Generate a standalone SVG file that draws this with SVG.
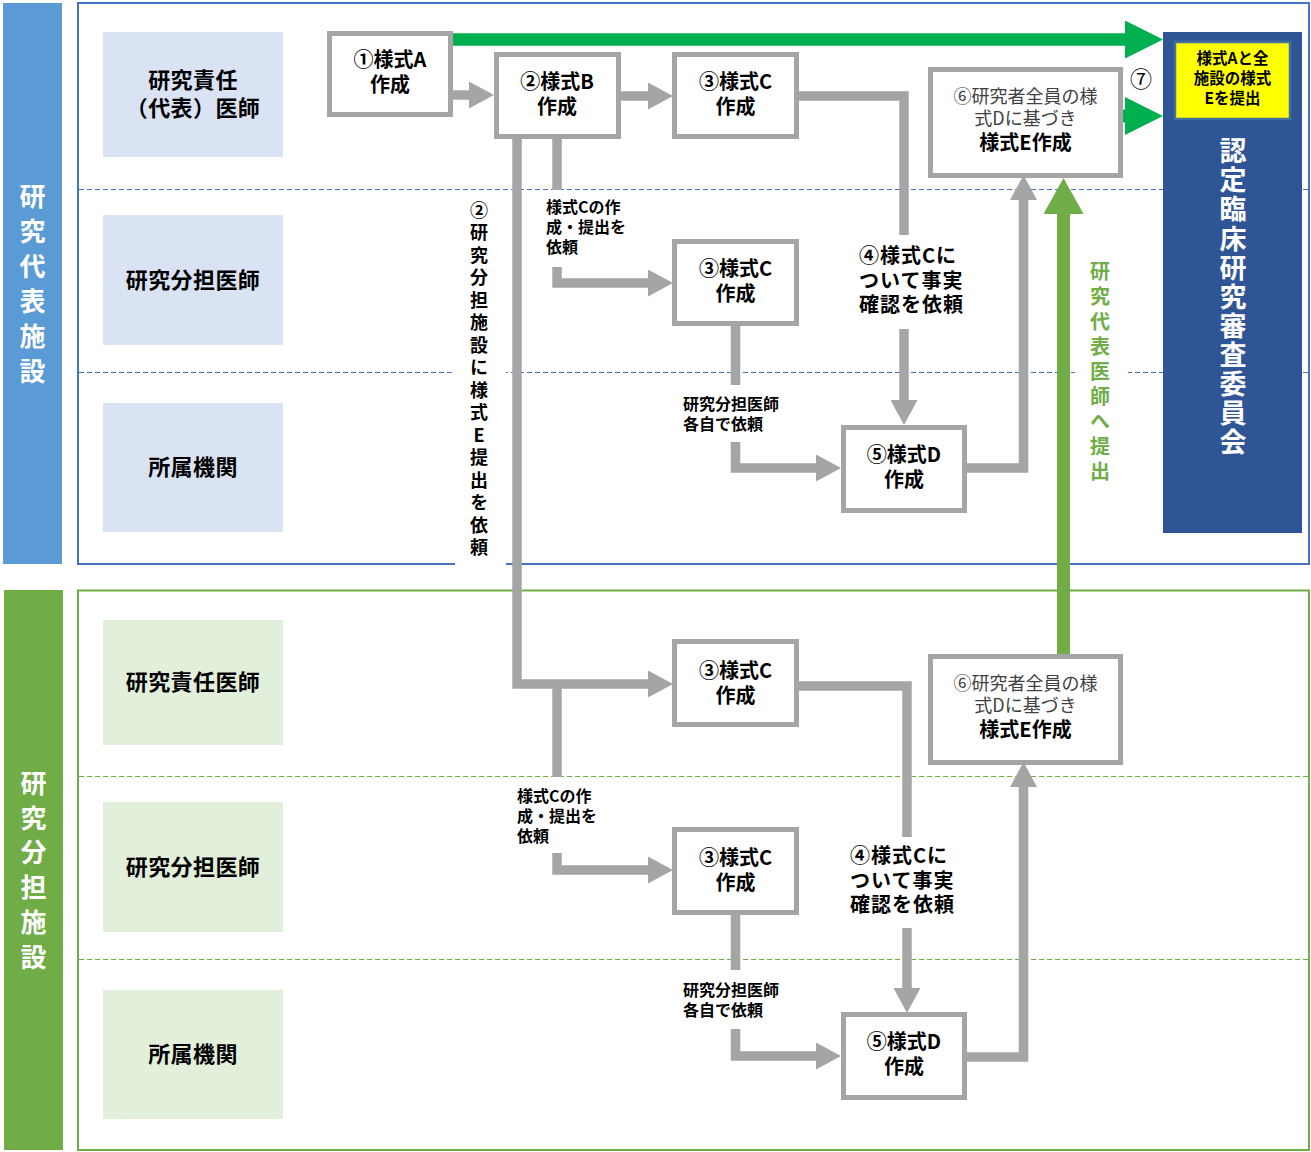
<svg xmlns="http://www.w3.org/2000/svg" width="1311" height="1152" viewBox="0 0 1311 1152">
<style>
text{font-family:"Noto Sans CJK JP","Noto Sans",sans-serif;}
.lane-b{fill:#DAE3F3;}
.lane-g{fill:#E2EFDA;}
.lbl{font-size:22px;font-weight:bold;fill:#000;text-anchor:middle;letter-spacing:0.4px;}
.node rect{fill:#fff;stroke:#A5A5A5;stroke-width:5;}
.nt{font-size:20px;font-weight:bold;fill:#000;text-anchor:middle;}
.nt6{font-size:18px;fill:#404040;text-anchor:middle;}
.sm{font-size:16px;font-weight:bold;fill:#000;}
.t4{font-size:20px;font-weight:bold;fill:#000;letter-spacing:1px;}
.conn{fill:none;stroke:#A5A5A5;stroke-width:9.5;stroke-linejoin:miter;}
.vt{writing-mode:vertical-rl;text-orientation:upright;font-weight:bold;}
.dashb{stroke:#4472C4;stroke-width:1;stroke-dasharray:5 3;}
.dashg{stroke:#70AD47;stroke-width:1;stroke-dasharray:5 3;}
</style>
<defs>
<marker id="ah" markerUnits="userSpaceOnUse" markerWidth="25" markerHeight="27" viewBox="0 0 25 27" refX="0" refY="13.5" orient="auto"><path d="M0,0 L25,13.5 L0,27 Z" fill="#A5A5A5"/></marker>
<marker id="ahg" markerUnits="userSpaceOnUse" markerWidth="38" markerHeight="38" viewBox="0 0 38 38" refX="0" refY="19" orient="auto"><path d="M0,0 L38,19 L0,38 Z" fill="#00B050"/></marker>
<marker id="ahl" markerUnits="userSpaceOnUse" markerWidth="36" markerHeight="40" viewBox="0 0 36 40" refX="0" refY="20" orient="auto"><path d="M0,0 L36,20 L0,40 Z" fill="#70AD47"/></marker>
</defs>

<!-- Facility bands and frames -->
<g id="band-rep">
<rect x="3" y="3" width="59" height="561" fill="#5B9BD5"/>
<text class="vt" x="32.5" y="183" font-size="26" fill="#fff" style="letter-spacing:9px">研究代表施設</text>
</g>
<g id="band-sub">
<rect x="4" y="590" width="59" height="560" fill="#70AD47"/>
<text class="vt" x="33.5" y="770" font-size="26" fill="#fff" style="letter-spacing:8.8px">研究分担施設</text>
</g>
<rect x="78" y="3" width="1231" height="561" fill="none" stroke="#4472C4" stroke-width="2"/>
<rect x="78" y="590.5" width="1231" height="559.5" fill="none" stroke="#70AD47" stroke-width="2"/>
<line class="dashb" x1="79" y1="189.5" x2="1308" y2="189.5"/>
<line class="dashb" x1="79" y1="372.5" x2="1308" y2="372.5"/>
<line class="dashg" x1="79" y1="776.5" x2="1308" y2="776.5"/>
<line class="dashg" x1="79" y1="959.5" x2="1308" y2="959.5"/>

<!-- Lane labels -->
<g id="lane-rep-pi"><rect class="lane-b" x="103" y="32" width="180" height="125"/><text class="lbl"><tspan x="193" y="88">研究責任</tspan><tspan x="193" y="116">（代表）医師</tspan></text></g>
<g id="lane-rep-sub"><rect class="lane-b" x="103" y="215" width="180" height="130"/><text class="lbl" x="193" y="288">研究分担医師</text></g>
<g id="lane-rep-inst"><rect class="lane-b" x="103" y="403" width="180" height="129"/><text class="lbl" x="193" y="475">所属機関</text></g>
<g id="lane-sub-pi"><rect class="lane-g" x="103" y="620" width="180" height="125"/><text class="lbl" x="193" y="690">研究責任医師</text></g>
<g id="lane-sub-sub"><rect class="lane-g" x="103" y="802" width="180" height="130"/><text class="lbl" x="193" y="875">研究分担医師</text></g>
<g id="lane-sub-inst"><rect class="lane-g" x="103" y="990" width="180" height="129"/><text class="lbl" x="193" y="1062">所属機関</text></g>

<!-- white backgrounds behind vertical labels -->
<rect x="455" y="195" width="51" height="372" fill="#fff"/>
<rect x="1075" y="255" width="53" height="240" fill="#fff"/>

<!-- Connectors -->
<g id="connectors">
<path class="conn" d="M453,95 H469" marker-end="url(#ah)"/>
<path class="conn" d="M621,96 H648" marker-end="url(#ah)"/>
<path class="conn" d="M799,96 H904 V235"/>
<path class="conn" d="M904,329 V400" marker-end="url(#ah)"/>
<path class="conn" d="M557,139 V190"/>
<path class="conn" d="M557,267 V283 H648" marker-end="url(#ah)"/>
<path class="conn" d="M517,139 V684 H648" marker-end="url(#ah)"/>
<path class="conn" d="M557,684 V777"/>
<path class="conn" d="M557,853 V870 H648" marker-end="url(#ah)"/>
<path class="conn" d="M735.5,326 V385"/>
<path class="conn" d="M735.5,442 V468 H816" marker-end="url(#ah)"/>
<path class="conn" d="M965,468 H1023.5 V200" marker-end="url(#ah)"/>
<path class="conn" d="M799,686 H907 V837"/>
<path class="conn" d="M907,928 V988" marker-end="url(#ah)"/>
<path class="conn" d="M735.5,913 V970"/>
<path class="conn" d="M735.5,1029 V1056 H816" marker-end="url(#ah)"/>
<path class="conn" d="M965,1057 H1023.5 V787" marker-end="url(#ah)"/>
<path d="M453,39.5 H1125" fill="none" stroke="#00B050" stroke-width="12.5" marker-end="url(#ahg)"/>
<path d="M1120,116 H1125" fill="none" stroke="#00B050" stroke-width="13" marker-end="url(#ahg)"/>
<path d="M1063.5,655 V214" fill="none" stroke="#70AD47" stroke-width="13" marker-end="url(#ahl)"/>
</g>

<!-- Connector labels -->
<g id="connector-labels">
<text class="vt" x="479" y="201" font-size="18" fill="#000" style="letter-spacing:4.5px">②研究分担施設に様式E提出を依頼</text>
<text class="vt" x="1100" y="261" font-size="20" fill="#70AD47" style="letter-spacing:5px">研究代表医師へ提出</text>
<text class="sm"><tspan x="546" y="213">様式Cの作</tspan><tspan x="546" y="233">成・提出を</tspan><tspan x="546" y="253">依頼</tspan></text>
<text class="sm"><tspan x="517" y="802">様式Cの作</tspan><tspan x="517" y="822">成・提出を</tspan><tspan x="517" y="842">依頼</tspan></text>
<text class="sm"><tspan x="683" y="410">研究分担医師</tspan><tspan x="683" y="430">各自で依頼</tspan></text>
<text class="sm"><tspan x="683" y="996">研究分担医師</tspan><tspan x="683" y="1016">各自で依頼</tspan></text>
<text class="t4"><tspan x="859" y="263">④様式Cに</tspan><tspan x="859" y="288">ついて事実</tspan><tspan x="859" y="312">確認を依頼</tspan></text>
<text class="t4"><tspan x="850" y="863">④様式Cに</tspan><tspan x="850" y="888">ついて事実</tspan><tspan x="850" y="912">確認を依頼</tspan></text>
<text x="1141" y="87" font-size="22" fill="#000" text-anchor="middle">⑦</text>
</g>

<!-- Nodes -->
<g id="node-1" class="node"><rect x="329.5" y="33.5" width="121" height="81"/><text class="nt"><tspan x="390" y="67">①様式A</tspan><tspan x="390" y="92">作成</tspan></text></g>
<g id="node-2" class="node"><rect x="496.5" y="54.5" width="122" height="82"/><text class="nt"><tspan x="557" y="89">②様式B</tspan><tspan x="557" y="114">作成</tspan></text></g>
<g id="node-3a" class="node"><rect x="674.5" y="54.5" width="122" height="82"/><text class="nt"><tspan x="735.5" y="89">③様式C</tspan><tspan x="735.5" y="114">作成</tspan></text></g>
<g id="node-3b" class="node"><rect x="674.5" y="241.5" width="122" height="82"/><text class="nt"><tspan x="735.5" y="276">③様式C</tspan><tspan x="735.5" y="301">作成</tspan></text></g>
<g id="node-5a" class="node"><rect x="843.5" y="427.5" width="121" height="83"/><text class="nt"><tspan x="904" y="462">⑤様式D</tspan><tspan x="904" y="487">作成</tspan></text></g>
<g id="node-6a" class="node"><rect x="930.5" y="69.5" width="190" height="106"/><text class="nt6"><tspan x="1025.5" y="103">⑥研究者全員の様</tspan><tspan x="1025.5" y="125">式Dに基づき</tspan></text><text class="nt" x="1025.5" y="150">様式E作成</text></g>
<g id="node-3c" class="node"><rect x="674.5" y="641.5" width="122" height="83"/><text class="nt"><tspan x="735.5" y="678">③様式C</tspan><tspan x="735.5" y="703">作成</tspan></text></g>
<g id="node-3d" class="node"><rect x="674.5" y="829.5" width="122" height="83"/><text class="nt"><tspan x="735.5" y="865">③様式C</tspan><tspan x="735.5" y="890">作成</tspan></text></g>
<g id="node-5b" class="node"><rect x="843.5" y="1014.5" width="121" height="83"/><text class="nt"><tspan x="904" y="1049">⑤様式D</tspan><tspan x="904" y="1074">作成</tspan></text></g>
<g id="node-6b" class="node"><rect x="930.5" y="656.5" width="190" height="106"/><text class="nt6"><tspan x="1025.5" y="690">⑥研究者全員の様</tspan><tspan x="1025.5" y="712">式Dに基づき</tspan></text><text class="nt" x="1025.5" y="737">様式E作成</text></g>

<!-- Committee -->
<g id="committee">
<rect x="1163" y="32" width="139" height="501" fill="#2F5597"/>
<rect x="1175" y="42" width="115" height="77" fill="#FFFF00" stroke="#41719C" stroke-width="2.5"/>
<text font-size="15.5" font-weight="bold" fill="#000" text-anchor="middle"><tspan x="1232.5" y="64">様式Aと全</tspan><tspan x="1232.5" y="84">施設の様式</tspan><tspan x="1232.5" y="104">Eを提出</tspan></text>
<text class="vt" x="1233" y="137.5" font-size="27" fill="#fff" style="letter-spacing:2.1px">認定臨床研究審査委員会</text>
</g>
</svg>
